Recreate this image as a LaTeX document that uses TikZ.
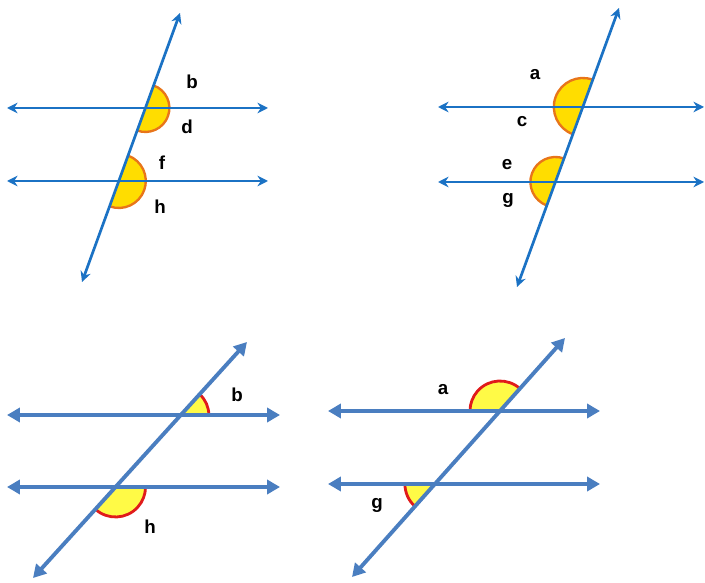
\documentclass[tikz,border=0pt]{standalone}
\usepackage{fontspec}
\setmainfont{Liberation Sans}
\usetikzlibrary{arrows.meta}
\definecolor{lineA}{RGB}{27,114,196}
\definecolor{lineB}{RGB}{74,126,192}
\definecolor{fillA}{RGB}{255,221,0}
\definecolor{fillB}{RGB}{255,250,70}
\definecolor{rimA}{RGB}{232,117,26}
\definecolor{rimB}{RGB}{224,27,27}
\begin{document}
\begin{tikzpicture}[x=0.03cm, y=0.03cm,
  every node/.style={font=\fontsize{16}{19}\selectfont\bfseries},
  thinline/.style={lineA, line width=2.3pt, {Stealth[length=9pt,width=9pt]}-{Stealth[length=9pt,width=9pt]}},
  thickline/.style={lineB, line width=3.3pt, {Triangle[length=11pt,width=12pt]}-{Triangle[length=11pt,width=12pt]}},
  rimtop/.style={rimA, line width=2pt},
  rimbot/.style={rimB, line width=2.4pt}]
\useasboundingbox (0,0) rectangle (705,582);
% top left
\coordinate (L1a) at (7,474);   \coordinate (L1b) at (268,474);
\coordinate (L2a) at (7,401);   \coordinate (L2b) at (268,401);
\coordinate (T1a) at (82,300);  \coordinate (T1b) at (180,569);
\coordinate (P1) at (intersection of L1a--L1b and T1a--T1b);
\coordinate (Q1) at (intersection of L2a--L2b and T1a--T1b);
\fill[fillA] (P1) -- ++(70:24) arc[start angle=70, end angle=-110, radius=24] -- cycle;
\fill[fillA] (Q1) -- ++(70:27) arc[start angle=70, end angle=-110, radius=27] -- cycle;
\draw[rimtop] (P1) ++(70:24) arc[start angle=70, end angle=-110, radius=24];
\draw[rimtop] (Q1) ++(70:27) arc[start angle=70, end angle=-110, radius=27];
\draw[thinline] (L1a) -- (L1b);
\draw[thinline] (L2a) -- (L2b);
\draw[thinline] (T1a) -- (T1b);
\node (b1) at (192,500) {b};
\node (d1) at (187,455) {d};
\node (f1) at (162,419) {f};
\node (h1) at (160,375) {h};
% top right
\coordinate (L3a) at (438,475); \coordinate (L3b) at (704,475);
\coordinate (L4a) at (438,400); \coordinate (L4b) at (704,400);
\coordinate (T2a) at (517,295); \coordinate (T2b) at (619,574);
\coordinate (P2) at (intersection of L3a--L3b and T2a--T2b);
\coordinate (Q2) at (intersection of L4a--L4b and T2a--T2b);
\fill[fillA] (P2) -- ++(70:29) arc[start angle=70, end angle=250, radius=29] -- cycle;
\fill[fillA] (Q2) -- ++(70:25) arc[start angle=70, end angle=250, radius=25] -- cycle;
\draw[rimtop] (P2) ++(70:29) arc[start angle=70, end angle=250, radius=29];
\draw[rimtop] (Q2) ++(70:25) arc[start angle=70, end angle=250, radius=25];
\draw[thinline] (L3a) -- (L3b);
\draw[thinline] (L4a) -- (L4b);
\draw[thinline] (T2a) -- (T2b);
\node (a2) at (535,507) {a};
\node (c2) at (522,460) {c};
\node (e2) at (507,417) {e};
\node (g2) at (508,382) {g};
% bottom left
\coordinate (L5a) at (7,167);   \coordinate (L5b) at (280,167);
\coordinate (L6a) at (7,95);    \coordinate (L6b) at (280,95);
\coordinate (T3a) at (33,4);    \coordinate (T3b) at (247,240);
\coordinate (P3) at (intersection of L5a--L5b and T3a--T3b);
\coordinate (Q3) at (intersection of L6a--L6b and T3a--T3b);
\fill[fillB] (P3) -- ++(0:28) arc[start angle=0, end angle=47.8, radius=28] -- cycle;
\fill[fillB] (Q3) -- ++(227.8:30) arc[start angle=227.8, end angle=360, radius=30] -- cycle;
\draw[rimbot] (P3) ++(0:28) arc[start angle=0, end angle=47.8, radius=28];
\draw[rimbot] (Q3) ++(227.8:30) arc[start angle=227.8, end angle=360, radius=30];
\draw[thickline] (L5a) -- (L5b);
\draw[thickline] (L6a) -- (L6b);
\draw[thickline] (T3a) -- (T3b);
\node (b3) at (237,187) {b};
\node (h3) at (150,55) {h};
% bottom right
\coordinate (L7a) at (328,171); \coordinate (L7b) at (600,171);
\coordinate (L8a) at (328,98);  \coordinate (L8b) at (600,98);
\coordinate (T4a) at (352,5);   \coordinate (T4b) at (565,244);
\coordinate (P4) at (intersection of L7a--L7b and T4a--T4b);
\coordinate (Q4) at (intersection of L8a--L8b and T4a--T4b);
\fill[fillB] (P4) -- ++(48.3:30) arc[start angle=48.3, end angle=180, radius=30] -- cycle;
\fill[fillB] (Q4) -- ++(180:30) arc[start angle=180, end angle=228.3, radius=30] -- cycle;
\draw[rimbot] (P4) ++(48.3:30) arc[start angle=48.3, end angle=180, radius=30];
\draw[rimbot] (Q4) ++(180:30) arc[start angle=180, end angle=228.3, radius=30];
\draw[thickline] (L7a) -- (L7b);
\draw[thickline] (L8a) -- (L8b);
\draw[thickline] (T4a) -- (T4b);
\node (a4) at (443,192) {a};
\node (g4) at (377,77) {g};
\end{tikzpicture}
\end{document}
